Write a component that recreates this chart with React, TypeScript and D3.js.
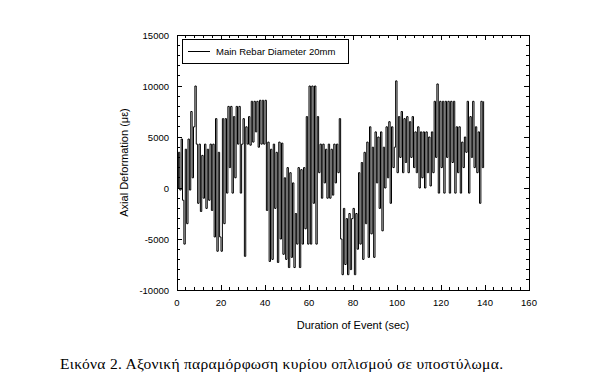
import React from "react";
import * as d3 from "d3";

// Sampling interval of the recorded signal (sec)
const SAMPLE_INTERVAL = 0.625;

// Axial deformation (micro-strain) readings, one per sample
const deformation: number[] = [
  // 0-10 s
  0, 3500, -200, 4800, -1200, -5500, 3800, -3500, 4800, -200, 7500, 1000, 6000, 10000, 4300, -1500,
  // 10-20 s
  4300, -2300, 3200, -1000, 4300, -2000, 3800, -1200, 4300, -2200, 4300, -4800, 6800, -6200, 3500, -4800,
  // 20-30 s
  -6200, 6800, -3500, 6800, -500, 8000, 2000, 8000, -500, 7000, 1000, 8000, 4300, 8000, -500, 4300,
  // 30-40 s
  6800, -6700, 6000, 4300, 7000, 4200, 8500, 4500, 8500, 5500, 8500, 4000, 8600, 4300, 8600, 4300,
  // 40-50 s
  8600, -2200, 4500, -7200, 3800, -7000, 4300, -2000, 3500, -7300, 4500, -5000, 4400, -6500, 1000, -7000,
  // 50-60 s
  2000, -7800, 1500, -6800, 500, -7800, -2500, -5500, 2000, -7800, 1800, -5500, 2000, -4000, 7000, -5500,
  // 60-70 s
  10000, -5500, 10000, -1500, 10000, -5500, 7000, 1500, 4300, -1000, 4300, 500, 3800, -1000, 4300, -1000,
  // 70-80 s
  3800, -700, 4300, 500, 4300, 1500, 6800, -5000, -8500, -2000, -7500, -3000, -8500, -2500, -8000, -3000,
  // 80-90 s
  -2000, -8500, -2500, -6000, 1500, -5500, 2500, -7000, 3500, -3500, 4500, -6800, 6000, -4500, 4000, -6800,
  // 90-100 s
  5500, 500, 5000, -2000, 5500, -4200, 4000, 0, 6000, 1000, 6500, -1500, 6000, 2000, 4000, 10500,
  // 100-110 s
  1500, 7000, 3000, 7500, 1500, 6800, 2500, 7000, 1500, 6500, 3000, 7000, 2000, 5500, 1500, 6000,
  // 110-120 s
  0, 5500, 1000, 5500, 0, 5500, 1500, 5000, 200, 5500, 1500, 8500, 3000, 10200, -500, 8500,
  // 120-130 s
  2000, 8500, -500, 8500, 3000, 8500, -500, 8500, 2500, 8500, -500, 6000, 1500, 6000, -500, 4500,
  // 130-140 s
  2000, 5000, 3500, 8500, -500, 7000, 3000, 8500, 2000, 6000, 1500, 5500, -1500, 8500, 2000, 8500,
];

const xTicks = [0, 20, 40, 60, 80, 100, 120, 140, 160];
const yTicks = [-10000, -5000, 0, 5000, 10000, 15000];

const seriesName = "Main Rebar Diameter 20mm";
const xTitle = "Duration of Event (sec)";
const yTitle = "Axial Deformation (\u03bc\u03b5)";
const caption = "\u0395\u03b9\u03ba\u03cc\u03bd\u03b1 2. \u0391\u03be\u03bf\u03bd\u03b9\u03ba\u03ae \u03c0\u03b1\u03c1\u03b1\u03bc\u03cc\u03c1\u03c6\u03c9\u03c3\u03b7 \u03ba\u03c5\u03c1\u03af\u03bf\u03c5 \u03bf\u03c0\u03bb\u03b9\u03c3\u03bc\u03bf\u03cd \u03c3\u03b5 \u03c5\u03c0\u03bf\u03c3\u03c4\u03cd\u03bb\u03c9\u03bc\u03b1.";

export default function App() {
  const W = 596;
  const H = 387;
  const L = 177, R = 529, T = 35, B = 290;
  const x = d3.scaleLinear().domain([0, 160]).range([L, R]);
  const y = d3.scaleLinear().domain([-10000, 15000]).range([B, T]);

  const pts: [number, number][] = deformation.map((v, i) => [i * SAMPLE_INTERVAL, v]);
  const line = d3
    .line<[number, number]>()
    .curve(d3.curveStepAfter)
    .x((d) => x(d[0]))
    .y((d) => y(d[1]));

  const xMinor = d3.range(0, 161, 4).filter((v) => v % 20 !== 0);
  const yMinor = d3.range(-10000, 15001, 1000).filter((v) => v % 5000 !== 0);
  const sans = "'Liberation Sans', Arial, sans-serif";
  const MAJ = 5, MIN = 3;

  return (
    <svg
      width={W}
      height={H}
      style={{ position: "absolute", left: 0, top: 0, background: "#fff" }}
    >
      <rect x={0} y={0} width={W} height={H} fill="#fff" />
      <g stroke="#000" strokeWidth={1} shapeRendering="crispEdges">
        <rect x={L} y={T} width={R - L} height={B - T} fill="none" />
        {xTicks.map((t) => (
          <g key={"xm" + t}>
            <line x1={x(t)} x2={x(t)} y1={B} y2={B - MAJ} />
            <line x1={x(t)} x2={x(t)} y1={T} y2={T + MAJ} />
          </g>
        ))}
        {xMinor.map((t) => (
          <g key={"xn" + t}>
            <line x1={x(t)} x2={x(t)} y1={B} y2={B - MIN} />
            <line x1={x(t)} x2={x(t)} y1={T} y2={T + MIN} />
          </g>
        ))}
        {yTicks.map((t) => (
          <g key={"ym" + t}>
            <line x1={L} x2={L + MAJ} y1={y(t)} y2={y(t)} />
            <line x1={R} x2={R - MAJ} y1={y(t)} y2={y(t)} />
          </g>
        ))}
        {yMinor.map((t) => (
          <g key={"yn" + t}>
            <line x1={L} x2={L + MIN} y1={y(t)} y2={y(t)} />
            <line x1={R} x2={R - MIN} y1={y(t)} y2={y(t)} />
          </g>
        ))}
      </g>
      <path d={line(pts) || ""} fill="none" stroke="#000" strokeWidth={1} />
      <g fontFamily={sans} fontSize={9.5} fill="#000">
        {xTicks.map((t) => (
          <text key={"xl" + t} x={x(t)} y={B + 16} textAnchor="middle">
            {t}
          </text>
        ))}
        {yTicks.map((t) => (
          <text key={"yl" + t} x={L - 8} y={y(t) + 3.5} textAnchor="end">
            {t}
          </text>
        ))}
      </g>
      <text
        x={(L + R) / 2}
        y={329}
        textAnchor="middle"
        fontFamily={sans}
        fontSize={11}
      >
        {xTitle}
      </text>
      <text
        transform={`translate(128, ${(T + B) / 2}) rotate(-90)`}
        textAnchor="middle"
        fontFamily={sans}
        fontSize={11}
      >
        {yTitle}
      </text>
      <g>
        <rect x={182} y={39} width={166} height={24} fill="#fff" stroke="#000" strokeWidth={1} shapeRendering="crispEdges" />
        <line x1={188} x2={210} y1={51.5} y2={51.5} stroke="#000" strokeWidth={1} />
        <text x={216} y={55} fontFamily={sans} fontSize={9.5}>
          {seriesName}
        </text>
      </g>
      <text
        x={60}
        y={369}
        fontFamily="'Liberation Serif', 'Times New Roman', serif"
        fontSize={15.5}
        textLength={443}
        lengthAdjust="spacing"
      >
        {caption}
      </text>
    </svg>
  );
}
